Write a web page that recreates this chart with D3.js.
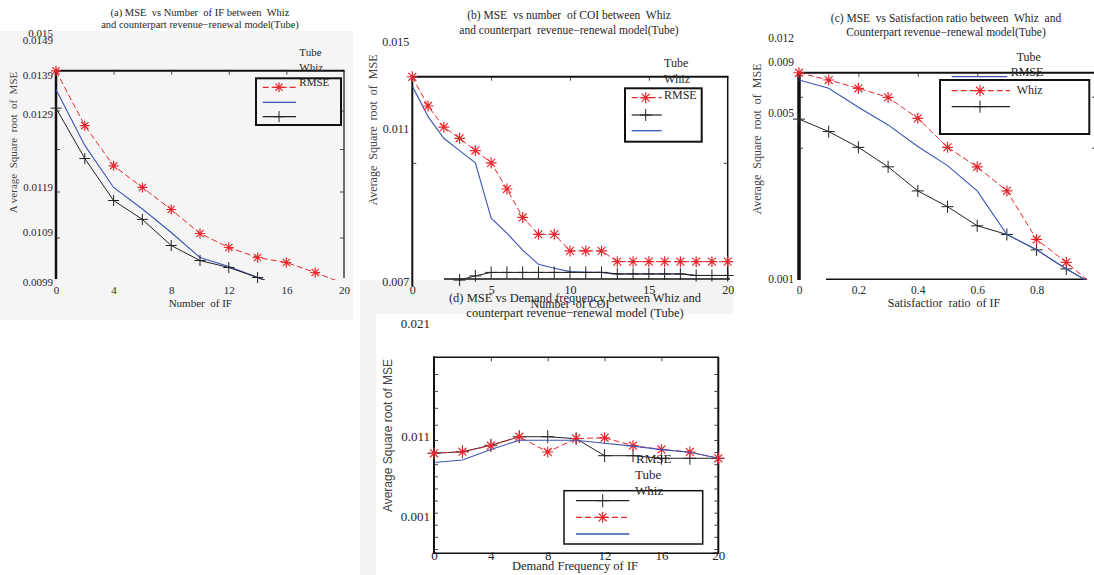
<!DOCTYPE html>
<html><head><meta charset="utf-8">
<script src="https://cdn.jsdelivr.net/npm/d3@7"></script>
<style>
body{margin:0;background:#fff;}
svg{display:block;}
text{white-space:pre;}
</style></head><body>
<svg id="chart" width="1094" height="575"></svg>
<script>
// ---------------- DATA ----------------
// (a) MSE vs Number of IF
const aX = [0,2,4,6,8,10,12,14,16,18,20];
const aWhiz = [0.01402,0.01274,0.01219,0.01189,0.01140,0.01087,0.01059,0.01039,0.01029,0.01009,0.00987];
const aTube = [0.01353,0.01247,0.01189,0.01141,0.01089,0.01039,0.01021,0.00999,0.00977,null,null];
const aRMSE = [0.01305,0.01229,0.01160,0.01118,0.01063,0.01033,0.01019,0.00999,0.00977,null,null];
const aYVals = [0.0099,0.0109,0.0119,0.0129,0.0139,0.0149,0.015];
const aYLabels = ["0.0099","0.0109","0.0119","0.0129","0.0139","0.0149","0.015"];
const aXTicks = [0,4,8,12,16,20];
const aTickMarks = [0.01299,0.01242,0.01180,0.01079];
const aLegendLabels = ["Tube","Whiz","RMSE"];

// (b) MSE vs number of COI
const bX = [0,1,2,3,4,5,6,7,8,9,10,11,12,13,14,15,16,17,18,19,20];
const bWhiz = [0.01338,0.01203,0.01105,0.01074,0.01042,0.01010,0.00942,0.00868,0.00824,0.00824,0.00781,0.00781,0.00781,0.00753,0.00753,0.00753,0.00753,0.00753,0.00753,0.00753,0.00753];
const bTube = [0.01295,0.01154,0.01074,0.01042,0.01010,0.00866,0.00827,0.00783,0.00746,0.00736,0.00727,0.00725,0.00725,0.00721,0.00721,0.00721,0.00721,0.00721,0.00717,0.00717,0.00717];
const bRMSE = [null,null,null,0.00705,0.00716,0.00725,0.00725,0.00725,0.00725,0.00725,0.00725,0.00725,0.00725,0.00721,0.00721,0.00721,0.00721,0.00721,0.00717,0.00717,0.00717];
const bYVals = [0.007,0.011,0.015];
const bYLabels = ["0.007","0.011","0.015"];
const bXTicks = [0,5,10,15,20];
const bTickMarks = [0.0101];
const bLegendLabels = ["Tube","Whiz","RMSE"];

// (c) MSE vs Satisfaction ratio
const cX = [0,0.1,0.2,0.3,0.4,0.5,0.6,0.7,0.8,0.9,1.0];
const cWhiz = [0.00818,0.00761,0.00696,0.00625,0.00488,0.00418,0.00371,0.00313,0.00196,0.00141,0.00081];
const cTube = [0.00761,0.00696,0.00547,0.00472,0.00420,0.00374,0.00313,0.00208,0.00171,0.00125,0.00084];
const cRMSE = [0.00486,0.00456,0.00418,0.00371,0.00313,0.00275,0.00229,0.00208,0.00171,0.00125,0.00084];
const cYVals = [0.001,0.005,0.009,0.012];
const cYLabels = ["0.001","0.005","0.009","0.012"];
const cXTicks = [0,0.2,0.4,0.6,0.8];
const cXLabels = ["0","0.2","0.4","0.6","0.8"];
const cTickMarks = [0.0063,0.00417];
const cLegendLabels = ["Tube","RMSE","Whiz"];

// (d) MSE vs Demand frequency
const dX = [0,2,4,6,8,10,12,14,16,18,20];
const dWhiz = [0.00886,0.00905,0.00980,0.01091,0.00902,0.01069,0.01078,0.00980,0.00933,0.00902,0.00824];
const dRMSE = [0.00886,0.00905,0.00985,0.01091,0.01091,0.01067,0.00856,0.00856,0.00824,0.00824,0.00824];
const dTube = [0.00772,0.00803,0.00933,0.01047,0.01047,0.01047,0.01010,0.00974,0.00931,0.00898,0.00824];
const dYVals = [0.001,0.011,0.021];
const dYLabels = ["0.001","0.011","0.021"];
const dXTicks = [0,4,8,12,16,20];
const dLegendLabels = ["RMSE","Tube","Whiz"];

// ---------------- STYLE ----------------
const SERIF = '"Liberation Serif","Times New Roman",serif';
const SANS = '"Liberation Sans",Arial,sans-serif';
const TXT = "#262626";
const styles = {
  whiz: {color:"#e8282e", width:1, dash:"6,3", marker:"star"},
  tube: {color:"#3a55b3", width:1.1, dash:null, marker:null},
  rmse: {color:"#222222", width:1, dash:null, marker:"plus"}
};
function markerPath(type, r) {
  if (type === "plus") return `M${-r},0H${r}M0,${-r}V${r}`;
  const k = r * 0.72;
  return `M${-r},0H${r}M0,${-r}V${r}M${-k},${-k}L${k},${k}M${-k},${k}L${k},${-k}`;
}

const svg = d3.select("#chart");

// background tints of the pasted sub-figures
svg.append("rect").attr("x",0).attr("y",31).attr("width",353).attr("height",289).attr("fill","#f5f5f5");
svg.append("rect").attr("x",360).attr("y",280).attr("width",373).attr("height",34).attr("fill","#f3f3f3");
svg.append("rect").attr("x",360).attr("y",314).attr("width",16).attr("height",261).attr("fill","#f3f3f3");

function drawPanel(p) {
  const g = svg.append("g").attr("class", "panel-" + p.id);
  const x = d3.scaleLinear().domain(p.xDomain).range([p.box.l, p.box.r]);
  const y = d3.scaleLinear().domain(p.yVals).range(p.yRange);
  const cid = "clip-" + p.id;
  g.append("clipPath").attr("id", cid).append("rect")
    .attr("x", p.box.l).attr("y", p.box.t - 1.5)
    .attr("width", p.box.r - p.box.l).attr("height", p.clipB - p.box.t + 1.5);

  // frame
  p.frame.forEach(f => g.append("line")
    .attr("x1", f[0]).attr("y1", f[1]).attr("x2", f[2]).attr("y2", f[3])
    .attr("stroke", "#111").attr("stroke-width", f[4]));

  // inner tick marks
  const tickG = (gen, tx, ty) => {
    const a = g.append("g").attr("transform", `translate(${tx},${ty})`).call(gen);
    a.select(".domain").remove();
    a.selectAll("line").attr("stroke", "#333").attr("stroke-width", 0.9);
  };
  const yT = p.yTicks.filter(v => y(v) > p.box.t + 1 && y(v) < p.box.b - 1);
  tickG(d3.axisLeft(y).tickValues(yT).tickSize(-4).tickFormat(""), p.box.l, 0);
  tickG(d3.axisRight(y).tickValues(yT).tickSize(-4).tickFormat(""), p.box.r, 0);
  tickG(d3.axisTop(x).tickValues(p.xTopTicks).tickSize(-4).tickFormat(""), 0, p.box.t);

  // y tick labels
  const ya = g.append("g").attr("transform", `translate(${p.box.l},0)`)
    .call(d3.axisLeft(y).tickValues(p.yVals).tickFormat((d, i) => p.yLabels[i]).tickSize(0).tickPadding(p.yPad));
  ya.select(".domain").remove();
  ya.attr("font-family", p.yFont || SERIF).attr("font-size", p.yFs).attr("color", TXT);

  // x tick labels
  const xa = g.append("g").attr("transform", `translate(0,${p.xLabelY})`)
    .call(d3.axisBottom(x).tickValues(p.xVals).tickFormat((d, i) => p.xLabels[i]).tickSize(0));
  xa.select(".domain").remove();
  xa.attr("font-family", SERIF).attr("font-size", p.xFs).attr("color", TXT);
  xa.selectAll("text").attr("y", 0).attr("dy", "0.35em");

  // series
  p.series.forEach(s => {
    const st = styles[s.style];
    const pts = p.xs.map((xv, i) => ({x: xv, v: s.values[i]}));
    g.append("path").datum(pts).attr("clip-path", `url(#${cid})`)
      .attr("fill", "none").attr("stroke", st.color).attr("stroke-width", st.width)
      .attr("stroke-dasharray", st.dash)
      .attr("d", d3.line().defined(d => d.v != null).x(d => x(d.x)).y(d => y(d.v)));
    if (st.marker) {
      const r = st.marker === "star" ? p.starR : p.plusR;
      g.append("g").selectAll("path")
        .data(pts.filter(d => d.v != null && y(d.v) <= p.markB && x(d.x) <= 1094))
        .join("path")
        .attr("transform", d => `translate(${x(d.x)},${y(d.v)})`)
        .attr("d", markerPath(st.marker, r))
        .attr("fill", "none").attr("stroke", st.color)
        .attr("stroke-width", st.marker === "star" ? 1.2 : 1);
    }
  });

  // legend
  const L = p.legend;
  g.append("rect").attr("x", L.box[0]).attr("y", L.box[1])
    .attr("width", L.box[2] - L.box[0]).attr("height", L.box[3] - L.box[1])
    .attr("fill", "none").attr("stroke", "#111").attr("stroke-width", L.bw);
  L.entries.forEach(e => {
    const st = styles[e.style];
    g.append("line").attr("x1", e.x1).attr("x2", e.x2).attr("y1", e.y).attr("y2", e.y)
      .attr("stroke", st.color).attr("stroke-width", st.width + 0.2).attr("stroke-dasharray", st.dash);
    if (st.marker) {
      g.append("path").attr("transform", `translate(${e.mx},${e.y})`)
        .attr("d", markerPath(st.marker, st.marker === "star" ? p.starR : p.plusR))
        .attr("fill", "none").attr("stroke", st.color).attr("stroke-width", st.marker === "star" ? 1.2 : 1);
    }
  });
  p.legendTexts.forEach((t, i) => g.append("text")
    .attr("x", t.x).attr("y", t.y).attr("dy", "0.35em")
    .attr("font-family", SERIF).attr("font-size", p.ltFs).attr("fill", TXT)
    .text(p.legendLabels[i]));

  // titles
  p.title.lines.forEach((ln, i) => g.append("text")
    .attr("x", p.title.x).attr("y", p.title.ys[i]).attr("dy", "0.35em")
    .attr("text-anchor", "middle").attr("font-family", SERIF)
    .attr("font-size", p.title.fs).attr("fill", TXT).text(ln));
  g.append("text")
    .attr("transform", `translate(${p.yTitle.x},${p.yTitle.y}) rotate(-90)`)
    .attr("dy", "0.35em").attr("text-anchor", "middle")
    .attr("font-family", p.yTitle.font || SERIF).attr("font-size", p.yTitle.fs)
    .attr("fill", "#444").text(p.yTitle.t);
  g.append("text")
    .attr("x", p.xTitle.x).attr("y", p.xTitle.y).attr("dy", "0.35em")
    .attr("text-anchor", "middle").attr("font-family", SERIF)
    .attr("font-size", p.xTitle.fs).attr("fill", TXT).text(p.xTitle.t);
}

// (a)
drawPanel({
  id: "a", xs: aX, xDomain: [0, 20],
  box: {l: 56, t: 70.7, r: 344, b: 278}, clipB: 280, markB: 281,
  yVals: aYVals, yLabels: aYLabels, yRange: [282, 232, 187, 114, 75, 40, 33], yPad: 3, yFs: 11,
  xVals: aXTicks, xLabels: aXTicks.map(String), xLabelY: 290, xFs: 11,
  yTicks: aTickMarks, xTopTicks: [4, 8, 12, 16],
  starR: 5, plusR: 5.5,
  series: [{values: aTube, style: "tube"}, {values: aRMSE, style: "rmse"}, {values: aWhiz, style: "whiz"}],
  frame: [[56, 69.7, 56, 279, 2.5], [55, 70.7, 344.5, 70.7, 2], [344, 70.7, 344, 278, 1.2]],
  legend: {box: [256, 78.3, 341, 125], bw: 2, entries: [
    {style: "whiz", y: 87.3, x1: 262.7, x2: 296, mx: 279},
    {style: "tube", y: 102.3, x1: 262.7, x2: 296},
    {style: "rmse", y: 116.7, x1: 262.7, x2: 296, mx: 279}]},
  legendLabels: aLegendLabels, ltFs: 11,
  legendTexts: [{x: 299.3, y: 51.7}, {x: 299.3, y: 66.7}, {x: 299.3, y: 81.7}],
  title: {lines: ["(a) MSE  vs Number  of IF between  Whiz", "and counterpart revenue\u2212renewal model(Tube)"], x: 200, ys: [12.7, 24.3], fs: 10.5},
  yTitle: {t: "A verage  Square  root  of  MSE", x: 13.3, y: 142.5, fs: 11},
  xTitle: {t: "Number  of IF", x: 200.3, y: 303, fs: 11}
});

// (b)
drawPanel({
  id: "b", xs: bX, xDomain: [0, 20],
  box: {l: 412.3, t: 76.7, r: 727.7, b: 279}, clipB: 281, markB: 282,
  yVals: bYVals, yLabels: bYLabels, yRange: [282, 128.3, 41.7], yPad: 3, yFs: 12,
  xVals: bXTicks, xLabels: bXTicks.map(String), xLabelY: 290, xFs: 12,
  yTicks: bTickMarks, xTopTicks: [5, 10, 15],
  starR: 5.5, plusR: 6,
  series: [{values: bTube, style: "tube"}, {values: bRMSE, style: "rmse"}, {values: bWhiz, style: "whiz"}],
  frame: [[412.3, 75.7, 412.3, 286, 2], [411.3, 76.7, 728.5, 76.7, 2], [727.7, 76.7, 727.7, 279, 1.5], [444, 279, 730, 279, 1.5]],
  legend: {box: [625, 88.3, 701.7, 141.7], bw: 2, entries: [
    {style: "whiz", y: 97.7, x1: 631.7, x2: 661.7, mx: 645.7},
    {style: "rmse", y: 115, x1: 631.7, x2: 661.7, mx: 645.7},
    {style: "tube", y: 130.7, x1: 631.7, x2: 661.7}]},
  legendLabels: bLegendLabels, ltFs: 12,
  legendTexts: [{x: 664, y: 62.3}, {x: 664, y: 79}, {x: 664, y: 95}],
  title: {lines: ["(b) MSE  vs number  of COI between  Whiz", "and counterpart  revenue\u2212renewal model(Tube)"], x: 569, ys: [15, 30], fs: 11.5},
  yTitle: {t: "Average  Square  root  of  MSE", x: 372.7, y: 130, fs: 12},
  xTitle: {t: "Number  of COI", x: 570, y: 303.3, fs: 12}
});

// (c)
drawPanel({
  id: "c", xs: cX, xDomain: [0, 1],
  box: {l: 799, t: 72.7, r: 1096, b: 279.3}, clipB: 280, markB: 282,
  yVals: cYVals, yLabels: cYLabels, yRange: [279.3, 113.3, 62.3, 38.3], yPad: 5, yFs: 11.5,
  xVals: cXTicks, xLabels: cXLabels, xLabelY: 290, xFs: 11.5,
  yTicks: cTickMarks, xTopTicks: [0.2, 0.4, 0.6, 0.8],
  starR: 5.5, plusR: 6,
  series: [{values: cRMSE, style: "rmse"}, {values: cTube, style: "tube"}, {values: cWhiz, style: "whiz"}],
  frame: [[799, 71.7, 799, 280, 3.5], [797.5, 72.7, 1094, 72.7, 2], [826, 279.3, 1087, 279.3, 1.5]],
  legend: {box: [940, 80, 1089.3, 134], bw: 2, entries: [
    {style: "tube", y: 76.7, x1: 951.7, x2: 1007.3},
    {style: "whiz", y: 90.7, x1: 951.7, x2: 1010, mx: 980},
    {style: "rmse", y: 106.7, x1: 951.7, x2: 1010, mx: 980}]},
  legendLabels: cLegendLabels, ltFs: 12,
  legendTexts: [{x: 1016.7, y: 56.7}, {x: 1010.7, y: 71.7}, {x: 1016.7, y: 89.3}],
  title: {lines: ["(c) MSE  vs Satisfaction ratio between  Whiz  and", "Counterpart revenue\u2212renewal model(Tube)"], x: 946, ys: [18.3, 32.3], fs: 11.5},
  yTitle: {t: "Average  Square  root  of  MSE", x: 756.7, y: 139, fs: 12},
  xTitle: {t: "Satisfactior  ratio  of IF", x: 944, y: 302.7, fs: 12}
});

// (d)
drawPanel({
  id: "d", xs: dX, xDomain: [0, 20],
  box: {l: 434, t: 357.3, r: 718.3, b: 553.3}, clipB: 553.3, markB: 560,
  yVals: dYVals, yLabels: dYLabels, yRange: [516.7, 436, 323.3], yPad: 4, yFs: 13,
  xVals: dXTicks, xLabels: dXTicks.map(String), xLabelY: 555, xFs: 13,
  yTicks: d3.range(-0.003, 0.0181, 0.0015), xTopTicks: [4, 8, 12, 16],
  starR: 5.5, plusR: 6.5,
  series: [{values: dRMSE, style: "rmse"}, {values: dWhiz, style: "whiz"}, {values: dTube, style: "tube"}],
  frame: [[434, 356.5, 434, 554, 2], [433, 357.3, 719, 357.3, 1.5], [718.3, 357.3, 718.3, 554, 2], [433, 553.3, 719, 553.3, 1.5]],
  legend: {box: [564, 490.7, 702.7, 544], bw: 1.5, entries: [
    {style: "rmse", y: 500.7, x1: 576, x2: 629.3, mx: 602.7},
    {style: "whiz", y: 517.3, x1: 576, x2: 629.3, mx: 602.7},
    {style: "tube", y: 534, x1: 576, x2: 629.3}]},
  legendLabels: dLegendLabels, ltFs: 13,
  legendTexts: [{x: 636, y: 458.3}, {x: 635, y: 474}, {x: 635, y: 490}],
  title: {lines: ["(d) MSE vs Demand frequency between Whiz and", "counterpart revenue\u2212renewal model (Tube)"], x: 575, ys: [297.3, 312.3], fs: 12.5},
  yTitle: {t: "Average Square root of MSE", x: 387.3, y: 435.5, fs: 12, font: SANS},
  xTitle: {t: "Demand Frequency of IF", x: 575, y: 566, fs: 12.5}
});
</script>
</body></html>
